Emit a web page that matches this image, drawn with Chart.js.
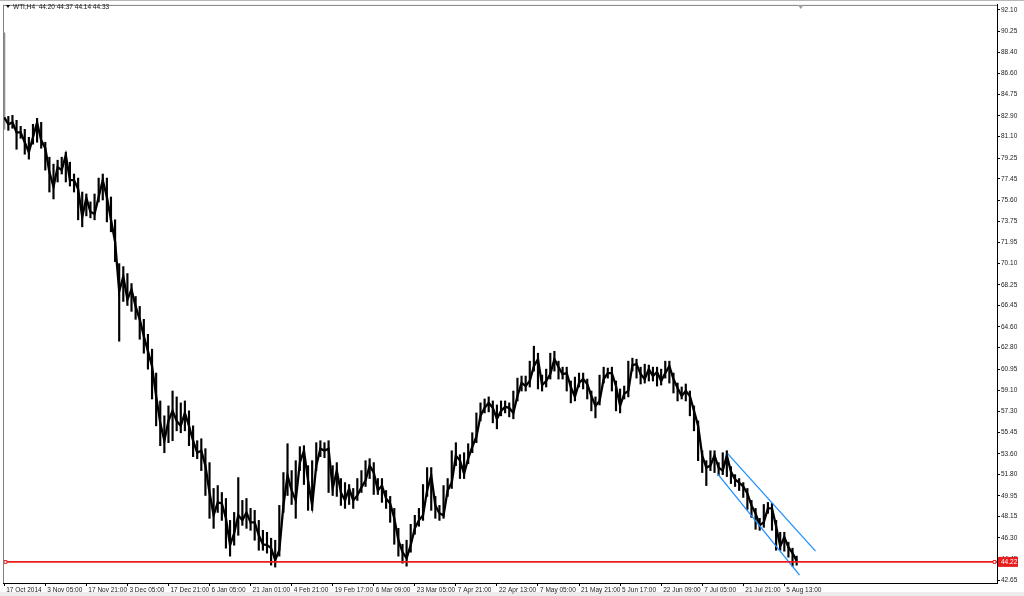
<!DOCTYPE html>
<html>
<head>
<meta charset="utf-8">
<title>WTI,H4</title>
<script src="https://cdn.jsdelivr.net/npm/chart.js@4.4.1/dist/chart.umd.min.js"></script>
<style>
    html, body { margin: 0; padding: 0; background: #fff; overflow: hidden; }
    canvas { display: block; }
</style>
</head>
<body>
<canvas id="wtiChart" width="1024" height="596"></canvas>
<script>
// Symbol header and last bar OHLC
const symbolName = 'WTI,H4';
const lastOhlc = ['44.20', '44.37', '44.14', '44.33'];

// Time axis labels, one every 10 bars
const dateLabels = ['17 Oct 2014', '3 Nov 05:00', '17 Nov 21:00', '3 Dec 05:00', '17 Dec 21:00',
    '6 Jan 05:00', '21 Jan 01:00', '4 Feb 21:00', '19 Feb 17:00', '6 Mar 09:00', '23 Mar 05:00',
    '7 Apr 21:00', '22 Apr 13:00', '7 May 05:00', '21 May 21:00', '5 Jun 17:00', '22 Jun 09:00',
    '7 Jul 05:00', '21 Jul 21:00', '5 Aug 13:00'];
const barsPerLabel = 10;

// Price scale labels
const priceTicks = [92.10, 90.25, 88.40, 86.60, 84.75, 82.90, 81.10, 79.25, 77.45, 75.60, 73.75,
    71.95, 70.10, 68.25, 66.45, 64.60, 62.80, 60.95, 59.10, 57.30, 55.45, 53.60, 51.80, 49.95,
    48.15, 46.30, 44.45, 42.65];

// Bar highs, lows and closes
const highs = [
    90.11, 82.86, 82.95, 82.52, 82.00, 81.74, 81.05, 82.17, 82.69, 82.34,
    80.62, 79.32, 78.72, 79.06, 79.32, 79.75, 78.89, 77.86, 77.51, 76.30,
    76.13, 75.44, 76.13, 77.51, 77.86, 77.51, 75.87, 73.89, 70.09, 69.83,
    69.23, 68.36, 67.24, 66.38, 65.26, 63.96, 62.67, 60.60, 58.18, 56.89,
    57.75, 59.04, 58.53, 58.01, 58.18, 57.32, 56.02, 54.73, 54.90, 54.04,
    52.83, 50.59, 50.84, 50.24, 49.72, 47.82, 48.51, 51.53, 49.55, 49.72,
    48.86, 48.69, 47.82, 46.96, 46.79, 46.27, 46.10, 49.12, 51.97, 54.47,
    52.14, 53.00, 54.21, 54.30, 52.57, 53.00, 54.56, 54.73, 54.56, 54.73,
    52.57, 52.83, 51.45, 51.10, 50.93, 50.59, 51.45, 52.14, 53.00, 53.17,
    52.83, 51.45, 51.45, 50.41, 49.90, 48.86, 47.13, 45.75, 46.10, 47.48,
    48.26, 48.86, 50.93, 52.40, 52.40, 49.90, 49.12, 50.84, 51.45, 53.86,
    54.56, 53.52, 53.69, 54.47, 55.42, 57.14, 58.01, 58.35, 58.53, 58.18,
    57.83, 58.18, 58.18, 58.01, 59.04, 60.16, 60.34, 60.34, 61.63, 62.93,
    62.32, 60.42, 60.94, 62.32, 62.49, 61.63, 61.11, 61.11, 59.91, 60.25,
    60.60, 60.60, 60.08, 59.04, 58.53, 60.42, 61.11, 61.03, 61.11, 59.91,
    59.22, 59.47, 61.63, 61.89, 61.80, 61.11, 61.37, 61.29, 61.11, 61.11,
    60.94, 61.63, 61.63, 60.60, 59.73, 59.39, 59.65, 59.04, 57.75, 56.45,
    53.86, 53.00, 53.86, 53.86, 52.83, 53.69, 53.86, 52.48, 51.79, 51.45,
    51.10, 50.59, 49.55, 48.86, 48.00, 49.20, 49.38, 49.29, 47.82, 46.79,
    46.79, 45.93, 45.41, 44.72
];
const lows = [
    81.74, 81.65, 81.83, 80.01, 80.96, 79.58, 79.15, 80.45, 80.62, 80.10,
    78.20, 76.30, 75.70, 77.17, 77.86, 77.17, 76.82, 76.30, 73.89, 73.28,
    74.23, 74.06, 73.89, 75.44, 75.61, 73.71, 72.85, 70.26, 63.36, 66.81,
    66.46, 65.95, 65.26, 63.53, 62.32, 60.94, 58.35, 56.02, 54.30, 53.69,
    54.56, 54.73, 55.59, 55.42, 55.59, 54.30, 53.35, 53.17, 52.14, 49.98,
    48.00, 47.13, 48.51, 47.82, 45.41, 44.72, 45.67, 46.53, 47.39, 47.13,
    46.96, 46.10, 45.23, 45.23, 44.98, 43.94, 43.77, 44.72, 48.51, 49.98,
    49.20, 48.00, 52.14, 50.93, 48.69, 48.69, 52.14, 53.35, 53.26, 50.24,
    49.98, 49.90, 49.12, 48.86, 49.20, 48.86, 49.55, 50.24, 50.76, 51.45,
    50.07, 50.07, 49.38, 48.86, 47.65, 45.75, 44.72, 44.11, 43.85, 45.06,
    46.62, 47.31, 47.82, 49.90, 48.69, 48.00, 47.82, 48.00, 49.90, 50.59,
    52.57, 51.45, 51.45, 52.74, 53.69, 54.56, 56.45, 57.14, 57.23, 56.28,
    55.76, 56.89, 57.14, 56.80, 56.63, 58.18, 59.04, 59.04, 59.39, 60.77,
    59.22, 59.04, 59.39, 60.08, 60.77, 60.08, 60.08, 59.04, 58.01, 58.18,
    59.39, 59.22, 58.35, 57.32, 56.71, 57.83, 59.73, 60.16, 59.04, 57.32,
    57.14, 58.35, 58.53, 60.77, 60.16, 59.65, 59.73, 59.91, 59.91, 59.47,
    59.56, 60.16, 59.73, 58.87, 58.18, 58.35, 58.18, 56.89, 55.59, 53.00,
    51.97, 50.84, 52.14, 51.97, 51.71, 51.79, 51.62, 51.02, 50.76, 50.41,
    49.81, 48.77, 48.08, 47.05, 46.96, 47.22, 48.43, 46.96, 45.23, 45.23,
    45.15, 44.63, 43.85, 43.94
];
const closes = [
    82.78, 82.17, 82.34, 81.48, 81.48, 80.62, 79.76, 81.05, 82.34, 80.79,
    80.10, 78.03, 76.74, 78.46, 78.20, 79.50, 77.34, 77.34, 76.56, 74.15,
    75.79, 74.58, 74.40, 75.87, 77.34, 75.87, 73.89, 71.99, 67.68, 68.97,
    66.98, 67.85, 66.38, 65.26, 63.79, 62.50, 61.20, 58.61, 56.28, 54.73,
    56.45, 57.32, 56.45, 56.02, 57.14, 56.02, 54.73, 53.69, 53.87, 52.57,
    50.24, 48.26, 49.38, 49.29, 48.00, 45.67, 46.70, 48.26, 47.83, 48.51,
    47.65, 47.65, 46.53, 45.75, 45.67, 45.41, 44.38, 45.24, 49.12, 51.71,
    50.42, 49.55, 52.83, 53.87, 51.28, 49.12, 52.57, 54.04, 53.87, 54.04,
    50.59, 52.14, 50.24, 49.55, 50.59, 49.55, 49.98, 50.68, 51.28, 52.57,
    51.97, 50.42, 50.84, 49.72, 49.29, 48.00, 46.10, 45.07, 44.55, 45.67,
    47.13, 47.83, 48.26, 50.42, 51.71, 49.12, 48.43, 48.26, 50.42, 51.10,
    53.44, 53.01, 51.88, 53.18, 54.21, 55.07, 56.89, 57.58, 58.01, 57.58,
    56.63, 57.32, 57.67, 57.58, 57.14, 58.61, 59.74, 59.48, 59.91, 61.20,
    61.81, 59.56, 59.91, 60.51, 61.81, 61.12, 60.51, 60.60, 59.39, 58.53,
    59.74, 60.08, 59.65, 58.61, 57.75, 58.18, 60.08, 60.60, 60.60, 59.48,
    57.75, 58.79, 59.05, 61.29, 61.37, 60.51, 60.08, 60.94, 60.34, 60.69,
    59.91, 60.60, 61.20, 60.08, 59.30, 58.61, 59.05, 58.61, 57.32, 56.02,
    53.44, 52.40, 52.57, 53.44, 52.40, 52.14, 53.44, 52.06, 51.37, 51.10,
    50.76, 50.16, 49.12, 48.43, 47.40, 47.65, 48.86, 48.86, 47.31, 45.58,
    46.36, 45.50, 44.98, 44.33
];

// Horizontal support line
const supportLevel = 44.22;

// Descending channel (bar index, price)
const channelUpperX = [176.2, 197.6];
const channelUpperY = [53.61, 45.15];
const channelLowerX = [173.7, 193.7];
const channelLowerY = [51.88, 43.08];

// Visible range of the chart
const xMin = -0.3;
const xMax = 241.8;
const yMin = 42.39;
const yMax = 92.53;

const FONT = 'Liberation Sans';
const RED = 'rgb(232, 30, 30)';
const BLUE = 'rgb(30, 144, 255)';

// Window chrome, header text and price marker
const terminalPlugin = {
    id: 'terminal',
    beforeDraw(chart) {
        const ctx = chart.ctx;
        ctx.save();
        ctx.fillStyle = '#fff';
        ctx.fillRect(0, 0, chart.width, chart.height);
        ctx.fillStyle = '#ececec';
        ctx.fillRect(0, 592, chart.width, chart.height - 592);
        ctx.fillStyle = '#b8b8b8';
        ctx.fillRect(0, 0, chart.width, 1);
        ctx.restore();
    },
    afterDraw(chart) {
        const ctx = chart.ctx;
        const area = chart.chartArea;
        ctx.save();
        // left / top frame
        ctx.strokeStyle = '#808080';
        ctx.lineWidth = 1;
        ctx.beginPath();
        ctx.moveTo(area.left + 0.5, area.top);
        ctx.lineTo(area.left + 0.5, area.bottom);
        ctx.moveTo(area.left, area.top + 0.5);
        ctx.lineTo(area.right, area.top + 0.5);
        ctx.stroke();

        // header
        ctx.fillStyle = '#000';
        ctx.beginPath();
        ctx.moveTo(6, 5);
        ctx.lineTo(10, 5);
        ctx.lineTo(8, 8);
        ctx.closePath();
        ctx.fill();
        ctx.font = '6.5px "' + FONT + '"';
        ctx.textBaseline = 'middle';
        ctx.fillStyle = '#111';
        ctx.fillText(symbolName + '  ' + lastOhlc.join(' '), 13, 7);

        // chart shift marker
        const sx = chart.scales.x.getPixelForValue(highs.length);
        ctx.fillStyle = '#a0a0a0';
        ctx.beginPath();
        ctx.moveTo(sx - 3, area.top);
        ctx.lineTo(sx + 3, area.top);
        ctx.lineTo(sx, area.top + 4);
        ctx.closePath();
        ctx.fill();

        // support price label on the axis
        const y = chart.scales.y.getPixelForValue(supportLevel);
        ctx.fillStyle = RED;
        ctx.fillRect(area.right + 1, y - 5, 20, 10);
        ctx.fillStyle = '#fff';
        ctx.fillText(supportLevel.toFixed(2), area.right + 4, y);
        ctx.restore();
    }
};

const barData = highs.map((h, i) => ({ x: i, y: [lows[i], h] }));
const closeData = closes.map((c, i) => ({ x: i, y: c }));

const lineDataset = (xs, ys, color, extra) => Object.assign({
    type: 'line',
    data: xs.map((x, i) => ({ x: x, y: ys[i] })),
    borderColor: color,
    borderWidth: 1.3,
    pointRadius: 0,
    fill: false
}, extra || {});

new Chart(document.getElementById('wtiChart'), {
    type: 'bar',
    data: {
        datasets: [
            {
                type: 'bar',
                data: barData,
                backgroundColor: ctx => ctx.dataIndex === 0 ? '#909090' : '#000',
                borderWidth: 0,
                barThickness: 1.5,
                order: 3
            },
            {
                type: 'line',
                data: closeData,
                borderColor: '#000',
                borderWidth: 2.3,
                pointRadius: 0,
                tension: 0,
                order: 2
            },
            lineDataset([xMin, xMin + 0.6, xMax - 0.6, xMax], [supportLevel, supportLevel, supportLevel, supportLevel], RED, {
                borderWidth: 1.8,
                pointStyle: 'rect',
                pointRadius: ctx => (ctx.dataIndex === 1 || ctx.dataIndex === 2) ? 2 : 0,
                pointBackgroundColor: '#fff',
                pointBorderColor: RED,
                pointBorderWidth: 1,
                order: 0
            }),
            lineDataset(channelUpperX, channelUpperY, BLUE, { order: 1 }),
            lineDataset(channelLowerX, channelLowerY, BLUE, { order: 1 })
        ]
    },
    options: {
        responsive: false,
        animation: false,
        devicePixelRatio: 1,
        layout: { padding: { left: 3, top: 2, right: 0, bottom: 0 } },
        plugins: {
            legend: { display: false },
            tooltip: { enabled: false }
        },
        scales: {
            x: {
                type: 'linear',
                min: xMin,
                max: xMax,
                offset: false,
                grid: { drawOnChartArea: false, offset: false, tickLength: 3, color: '#000' },
                border: { display: true, color: '#000' },
                afterBuildTicks: scale => {
                    scale.ticks = dateLabels.map((_, k) => ({ value: k * barsPerLabel }));
                },
                afterFit: scale => { scale.height = 13; },
                ticks: {
                    autoSkip: false,
                    maxRotation: 0,
                    minRotation: 0,
                    align: 'start',
                    labelOffset: 2,
                    padding: 0,
                    color: '#222',
                    font: { family: FONT, size: 6.5 },
                    callback: v => dateLabels[Math.round(v / barsPerLabel)] || ''
                }
            },
            y: {
                position: 'right',
                min: yMin,
                max: yMax,
                grid: { drawOnChartArea: false, tickLength: 3, color: '#000' },
                border: { display: true, color: '#000' },
                afterBuildTicks: scale => {
                    scale.ticks = priceTicks.map(v => ({ value: v }));
                },
                afterFit: scale => { scale.width = 27; },
                ticks: {
                    padding: 1,
                    color: '#222',
                    font: { family: FONT, size: 6.5 },
                    callback: v => v.toFixed(2)
                }
            }
        }
    },
    plugins: [terminalPlugin]
});
</script>
</body>
</html>
